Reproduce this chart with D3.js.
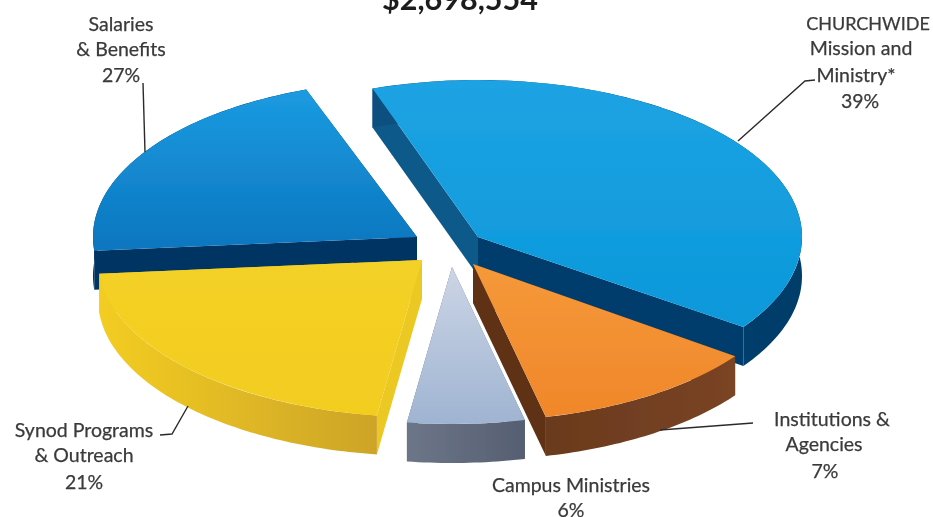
<!DOCTYPE html>
<html>
<head>
<meta charset="utf-8">
<script src="https://cdn.jsdelivr.net/npm/d3@7"></script>
<style>
  html, body { margin: 0; padding: 0; background: #fff; }
  svg { display: block; }
  .label { font-family: Lato, "Open Sans", sans-serif; font-size: 19.5px; fill: #3a3a3a; stroke: #3a3a3a; stroke-width: 0.25px; text-anchor: middle; }
  .caps { font-size: 18px; }
  .title { font-family: Lato, "Open Sans", sans-serif; font-size: 30.5px; font-weight: 700; fill: #1c1c1c; text-anchor: middle; }
</style>
</head>
<body>
<div class="chart"></div>
<script>
var svgWidth = 933;
var svgHeight = 517;

// slices in drawing order, back ones first
var categories = ["Salaries & Benefits", "CHURCHWIDE Mission and Ministry*", "Institutions & Agencies", "Synod Programs & Outreach", "Campus Ministries"];
var percents = [27, 39, 7, 21, 6];
// the drawn slices do not follow the printed percents, so angles are read off the picture (degrees clockwise from top)
var startDegrees = [265, -19, 126, 188, 167];
var endDegrees = [340, 125, 167, 265, 188];

var titleText = "$2,698,554";

// each slice's own apex on the page
var apexX = [417, 478, 473, 422, 452];
var apexY = [237, 237, 264, 260, 267];

var radiusX = 324;
var radiusY = 157;
var depth = 39;

var topColors = [["#1b9be1", "#0b76bf"], ["#1ea3e3", "#0a98da"], ["#f5993a", "#f0872a"], ["#f4d126", "#f3cd1f"], ["#ccd5e5", "#9fb4d2"]];
var rimColors = [["#04335f", "#05305c"], ["#0a5080", "#053c69"], ["#6a3a1e", "#7a4423"], ["#f3cd22", "#cda428"], ["#6c7688", "#565f72"]];
var startWallColors = ["#053563", "#0e5a8a", "#6a3a1e", "#ecc822", "#5e6779"];
var endWallColors = ["#053563", "#063e6c", "#5e3218", "#ecc822", "#5e6779"];

var svg = d3.select(".chart")
  .append("svg")
  .attr("width", svgWidth)
  .attr("height", svgHeight);

var defs = svg.append("defs");

defs.append("filter")
  .attr("id", "soft")
  .append("feGaussianBlur")
  .attr("stdDeviation", 0.5);

// gradients, one pair for each slice
categories.forEach(function(d, i) {
  var topGrad = defs.append("linearGradient")
    .attr("id", "top" + i)
    .attr("x1", 0).attr("y1", 0)
    .attr("x2", 0).attr("y2", 1);
  topGrad.append("stop").attr("offset", "0%").attr("stop-color", topColors[i][0]);
  topGrad.append("stop").attr("offset", "100%").attr("stop-color", topColors[i][1]);

  var rimGrad = defs.append("linearGradient")
    .attr("id", "rim" + i)
    .attr("x1", 0).attr("y1", 0)
    .attr("x2", 1).attr("y2", 0);
  rimGrad.append("stop").attr("offset", "0%").attr("stop-color", rimColors[i][0]);
  rimGrad.append("stop").attr("offset", "100%").attr("stop-color", rimColors[i][1]);
});

var chartGroup = svg.append("g").attr("filter", "url(#soft)");

var angleScale = d3.scaleLinear()
  .domain([0, 360])
  .range([0, 2 * Math.PI]);

var scaleY = d3.scaleLinear().domain([-1, 1]).range([-radiusY, radiusY]);
var scaleX = d3.scaleLinear().domain([-1, 1]).range([-radiusX, radiusX]);

var arc = d3.arc()
  .innerRadius(0)
  .outerRadius(radiusX)
  .startAngle(d => angleScale(d.start))
  .endAngle(d => angleScale(d.end));

var line = d3.line().x(d => d[0]).y(d => d[1]);

function rimPoint(deg, i) {
  var a = angleScale(deg);
  return [apexX[i] + scaleX(Math.sin(a)), apexY[i] + scaleY(-Math.cos(a))];
}

function lower(p) {
  return [p[0], p[1] + depth];
}

var slices = chartGroup.selectAll("g.slice")
  .data(categories.map((name, i) => ({ name: name, i: i, start: startDegrees[i], end: endDegrees[i] })))
  .enter()
  .append("g")
  .attr("class", "slice");

// side walls first, the top face goes over them
slices.each(function(d) {
  var g = d3.select(this);
  var apex = [apexX[d.i], apexY[d.i]];
  var steps = d3.range(d.start, d.end + 0.5, 1);
  var rim = steps.map(deg => rimPoint(deg, d.i));
  var walls = [
    { pts: [apex, rim[0], lower(rim[0]), lower(apex)], fill: startWallColors[d.i] },
    { pts: [apex, rim[rim.length - 1], lower(rim[rim.length - 1]), lower(apex)], fill: endWallColors[d.i] },
    { pts: rim.concat(rim.slice().reverse().map(lower)), fill: "url(#rim" + d.i + ")" }
  ];
  g.selectAll("path.wall")
    .data(walls)
    .enter()
    .append("path")
    .attr("class", "wall")
    .attr("d", w => line(w.pts) + "Z")
    .attr("fill", w => w.fill);
});

slices.append("path")
  .attr("class", "top")
  .attr("transform", d => `translate(${apexX[d.i]}, ${apexY[d.i]}) scale(1, ${radiusY / radiusX})`)
  .attr("d", arc)
  .attr("fill", d => `url(#top${d.i})`);

// leader lines
var leaders = [
  [[143, 83], [145, 152]],
  [[815, 80], [805, 81], [738, 141]],
  [[160, 435], [172, 434], [188, 406]],
  [[753, 423], [660, 430]]
];

chartGroup.selectAll("path.leader")
  .data(leaders)
  .enter()
  .append("path")
  .attr("class", "leader")
  .attr("d", line)
  .attr("fill", "none")
  .attr("stroke", "#2b2b2b")
  .attr("stroke-width", 1.4);

// text rows: [text, x, y]
var labelRows = [
  ["Salaries", 121, 31], ["& Benefits", 121, 56], ["27%", 121, 82],
  ["CHURCHWIDE", 868, 30], ["Mission and", 861, 55], ["Ministry*", 856, 82], ["39%", 860, 108],
  ["Institutions &", 832, 426], ["Agencies", 824, 451], ["7%", 825, 478],
  ["Campus Ministries", 571, 492], ["6%", 571, 517],
  ["Synod Programs", 84, 437], ["& Outreach", 84, 462], ["21%", 84, 489]
];

var textGroup = svg.append("g").attr("filter", "url(#soft)");

textGroup.append("text")
  .attr("class", "title")
  .attr("x", 460)
  .attr("y", 10)
  .text(titleText);

textGroup.selectAll("text.label")
  .data(labelRows)
  .enter()
  .append("text")
  .attr("class", d => d[0] === "CHURCHWIDE" ? "label caps" : "label")
  .attr("x", d => d[1])
  .attr("y", d => d[2])
  .text(d => d[0]);
</script>
</body>
</html>
